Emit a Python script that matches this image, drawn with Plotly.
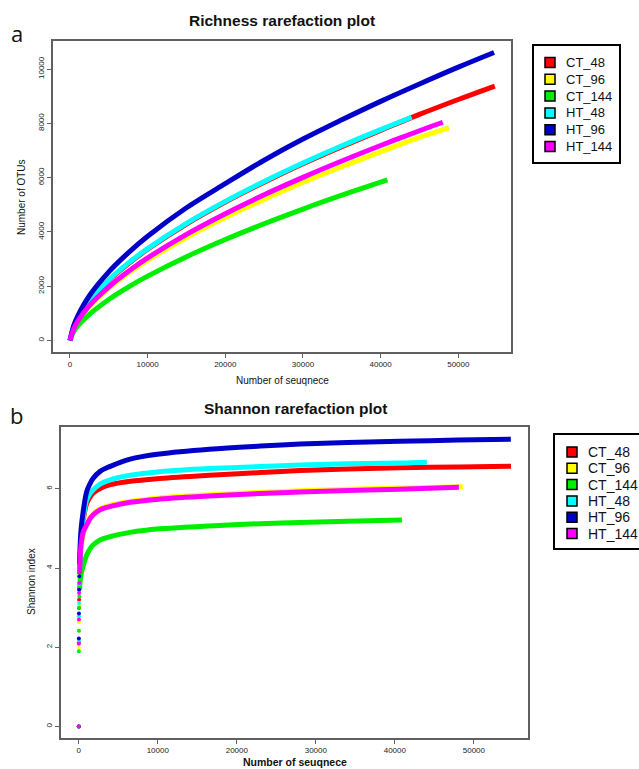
import plotly.graph_objects as go

W, H = 639, 769

samples = ["CT_48", "CT_96", "CT_144", "HT_48", "HT_96", "HT_144"]
colors = ["#FF0000", "#FFFF00", "#00EE00", "#00FFFF", "#0000C8", "#FF00FF"]

# ---- Richness: observed OTUs against number of sequences ----
rich_depth_CT_48 = [0, 500, 1000, 2500, 5000, 7500, 10000, 15000, 20000, 25000, 30000, 35000, 40000, 45000, 50000, 54700]
rich_CT_48 = [0, 500, 800, 1460, 2215, 2825, 3360, 4290, 5100, 5830, 6510, 7140, 7740, 8330, 8880, 9375]

rich_depth_CT_96 = [0, 500, 1000, 2500, 5000, 7500, 10000, 15000, 20000, 25000, 30000, 35000, 40000, 45000, 48800]
rich_CT_96 = [0, 430, 690, 1255, 1925, 2475, 2955, 3795, 4530, 5200, 5820, 6400, 6950, 7480, 7830]

rich_depth_CT_144 = [0, 500, 1000, 2500, 5000, 7500, 10000, 15000, 20000, 25000, 30000, 35000, 40000, 40870]
rich_CT_144 = [0, 330, 535, 963, 1511, 1967, 2371, 3086, 3721, 4301, 4842, 5352, 5838, 5920]

rich_depth_HT_48 = [0, 500, 1000, 2500, 5000, 7500, 10000, 15000, 20000, 25000, 30000, 35000, 40000, 44000]
rich_HT_48 = [0, 505, 810, 1475, 2235, 2850, 3385, 4315, 5125, 5860, 6540, 7175, 7770, 8225]

rich_depth_HT_96 = [0, 500, 1000, 2500, 5000, 7500, 10000, 15000, 20000, 25000, 30000, 35000, 40000, 45000, 50000, 54600]
rich_HT_96 = [0, 560, 900, 1650, 2530, 3230, 3840, 4890, 5780, 6640, 7420, 8130, 8810, 9450, 10070, 10610]

rich_depth_HT_144 = [0, 500, 1000, 2500, 5000, 7500, 10000, 15000, 20000, 25000, 30000, 35000, 40000, 45000, 48000]
rich_HT_144 = [0, 440, 710, 1288, 1979, 2544, 3041, 3910, 4673, 5367, 6009, 6612, 7183, 7728, 8040]

# ---- Shannon index against number of sequences ----
shan_depth_CT_48 = [1, 10, 20, 40, 70, 100, 150, 200, 300, 550, 1000, 1400, 1800, 2700, 3900, 6500, 10250,
                    16500, 23000, 28000, 34000, 40600, 48000, 54700]
shan_CT_48 = [0, 2.12, 2.99, 3.20, 3.50, 3.90, 4.20, 4.45, 4.75, 5.20, 5.63, 5.78, 5.89, 6.01, 6.10, 6.19, 6.26,
              6.34, 6.41, 6.46, 6.50, 6.53, 6.55, 6.57]

shan_depth_CT_96 = [1, 10, 20, 40, 70, 100, 150, 200, 300, 550, 1000, 1400, 1800, 2700, 3900, 6500, 10250,
                    16500, 23000, 28000, 34000, 40600, 48600]
shan_CT_96 = [0, 1.98, 2.63, 3.05, 3.40, 3.70, 4.00, 4.25, 4.50, 4.85, 5.12, 5.27, 5.37, 5.50, 5.58, 5.68, 5.77,
              5.85, 5.91, 5.95, 5.99, 6.02, 6.05]

shan_depth_CT_144 = [1, 10, 20, 40, 70, 100, 150, 200, 300, 550, 1000, 1400, 1800, 2700, 3900, 6500, 10250,
                     16500, 23000, 28000, 34000, 40890]
shan_CT_144 = [0, 1.90, 2.42, 3.00, 3.28, 3.45, 3.60, 3.72, 3.85, 4.05, 4.33, 4.48, 4.58, 4.71, 4.79, 4.90, 4.99,
               5.06, 5.12, 5.15, 5.18, 5.21]

shan_depth_HT_48 = [1, 10, 20, 40, 70, 100, 150, 200, 300, 550, 1000, 1400, 1800, 2700, 3900, 6500, 10250,
                    16500, 23000, 28000, 34000, 40600, 44050]
shan_HT_48 = [0, 2.16, 2.78, 3.12, 3.60, 3.95, 4.25, 4.50, 4.80, 5.25, 5.72, 5.87, 5.97, 6.12, 6.22, 6.34, 6.43,
              6.51, 6.56, 6.60, 6.63, 6.65, 6.67]

shan_depth_HT_96 = [1, 10, 20, 40, 70, 100, 150, 200, 300, 550, 1000, 1400, 1800, 2700, 3900, 6500, 10250,
                    16500, 23000, 28000, 34000, 40600, 48000, 54680]
shan_HT_96 = [0, 2.22, 2.85, 3.45, 3.79, 4.10, 4.40, 4.70, 5.00, 5.42, 5.93, 6.12, 6.26, 6.44, 6.56, 6.75, 6.88,
              7.00, 7.08, 7.13, 7.17, 7.20, 7.23, 7.25]

shan_depth_HT_144 = [1, 10, 20, 40, 70, 100, 150, 200, 300, 550, 1000, 1400, 1800, 2700, 3900, 6500, 10250,
                     16500, 23000, 28000, 34000, 40600, 48100]
shan_HT_144 = [0, 2.09, 2.70, 3.37, 3.62, 3.85, 4.15, 4.40, 4.60, 4.90, 5.09, 5.24, 5.34, 5.47, 5.55, 5.66, 5.74,
               5.82, 5.88, 5.92, 5.96, 5.99, 6.04]

x_ticks = [0, 10000, 20000, 30000, 40000, 50000]
rich_ticks = [0, 2000, 4000, 6000, 8000, 10000]
shan_ticks = [0, 2, 4, 6]

richness = {
    "CT_48": (rich_depth_CT_48, rich_CT_48), "CT_96": (rich_depth_CT_96, rich_CT_96),
    "CT_144": (rich_depth_CT_144, rich_CT_144), "HT_48": (rich_depth_HT_48, rich_HT_48),
    "HT_96": (rich_depth_HT_96, rich_HT_96), "HT_144": (rich_depth_HT_144, rich_HT_144),
}
shannon = {
    "CT_48": (shan_depth_CT_48, shan_CT_48), "CT_96": (shan_depth_CT_96, shan_CT_96),
    "CT_144": (shan_depth_CT_144, shan_CT_144), "HT_48": (shan_depth_HT_48, shan_HT_48),
    "HT_96": (shan_depth_HT_96, shan_HT_96), "HT_144": (shan_depth_HT_144, shan_HT_144),
}

# depths below this are shown as separate points rather than a line
DOT_LIMIT = 100


def px(x):
    return x / W


def py(y):
    return 1 - y / H


fig = go.Figure()

for name, col in zip(samples, colors):
    xs, ys = richness[name]
    fig.add_trace(go.Scatter(x=xs, y=ys, mode="lines", xaxis="x", yaxis="y",
                             line=dict(color=col, width=5, shape="spline", smoothing=1.0),
                             showlegend=False, hoverinfo="skip"))

for name, col in zip(samples, colors):
    xs, ys = shannon[name]
    line_x = [d for d in xs if d >= DOT_LIMIT]
    line_y = [v for d, v in zip(xs, ys) if d >= DOT_LIMIT]
    dot_x = [d for d in xs if d < DOT_LIMIT]
    dot_y = [v for d, v in zip(xs, ys) if d < DOT_LIMIT]
    fig.add_trace(go.Scatter(x=line_x, y=line_y, mode="lines", xaxis="x2", yaxis="y2",
                             line=dict(color=col, width=5, shape="spline", smoothing=1.0),
                             showlegend=False, hoverinfo="skip"))
    fig.add_trace(go.Scatter(x=dot_x, y=dot_y, mode="markers", xaxis="x2", yaxis="y2",
                             marker=dict(color=col, size=4),
                             showlegend=False, hoverinfo="skip"))

tick_font = dict(family="Liberation Sans, Arial, sans-serif", size=8, color="#222")
axis_common = dict(showline=True, mirror=True, linecolor="#606060", linewidth=1.5,
                   ticks="outside", ticklen=4, tickcolor="#606060", tickwidth=1,
                   showgrid=False, zeroline=False, tickfont=tick_font)

fig.update_layout(
    width=W, height=H,
    margin=dict(l=0, r=0, t=0, b=0),
    paper_bgcolor="white", plot_bgcolor="white",
    xaxis=dict(domain=[px(53), px(511)], range=[-2184, 56784], tickvals=x_ticks,
               ticktext=[str(v) for v in x_ticks], anchor="y", **axis_common),
    yaxis=dict(domain=[py(352), py(41)], range=[-424, 11034], tickvals=rich_ticks,
               ticktext=[str(v) for v in rich_ticks], tickangle=-90, anchor="x", **axis_common),
    xaxis2=dict(domain=[px(61), px(528)], range=[-2250, 56850], tickvals=x_ticks,
                ticktext=[str(v) for v in x_ticks], anchor="y2", **axis_common),
    yaxis2=dict(domain=[py(738), py(427)], range=[-0.29, 7.56], tickvals=shan_ticks,
                ticktext=[str(v) for v in shan_ticks], tickangle=-90, anchor="x2", **axis_common),
)

annotations = []
label_font = dict(family="Liberation Sans, Arial, sans-serif", color="#111")


def note(x, y, text, size, angle=0, family=None, xanchor="center"):
    f = dict(size=size, **label_font)
    if family:
        f["family"] = family
    annotations.append(dict(x=px(x), y=py(y), text=text, showarrow=False, textangle=angle,
                            xref="paper", yref="paper", xanchor=xanchor, yanchor="middle",
                            font=f))


# panel letters and titles
note(17, 33, "a", 22, family="Open Sans, sans-serif")
note(16, 415, "b", 22, family="Open Sans, sans-serif")
note(282, 20, "<b>Richness rarefaction plot</b>", 15.5)
note(295, 408, "<b>Shannon rarefaction plot</b>", 15.5)

# axis titles
note(282, 380, "Number of seuqnece", 10)
note(22, 197, "Number of OTUs", 10, angle=-90)
note(295, 762, "<b>Number of seuqnece</b>", 10.5)
note(31, 582, "Shannon index", 10, angle=-90)

shapes = []


def add_legend(box, sq_x, txt_x, row0, step, fsize):
    x0, y0, x1, y1 = box
    shapes.append(dict(type="rect", xref="paper", yref="paper",
                       x0=px(x0), x1=px(x1), y0=py(y1), y1=py(y0),
                       line=dict(color="black", width=2), fillcolor="white", layer="above"))
    for i, (name, col) in enumerate(zip(samples, colors)):
        cy = row0 + i * step
        shapes.append(dict(type="rect", xref="paper", yref="paper",
                           x0=px(sq_x - 5), x1=px(sq_x + 5), y0=py(cy + 5), y1=py(cy - 5),
                           line=dict(color="black", width=1.5), fillcolor=col, layer="above"))
        note(txt_x, cy, name, fsize, xanchor="left")


add_legend((533, 45, 620, 163), 550, 564, 62.5, 16.8, 13)
add_legend((554, 434, 680, 549), 572, 586, 452, 16.3, 14)

fig.update_layout(annotations=annotations, shapes=shapes)

fig.write_html("out.html")
